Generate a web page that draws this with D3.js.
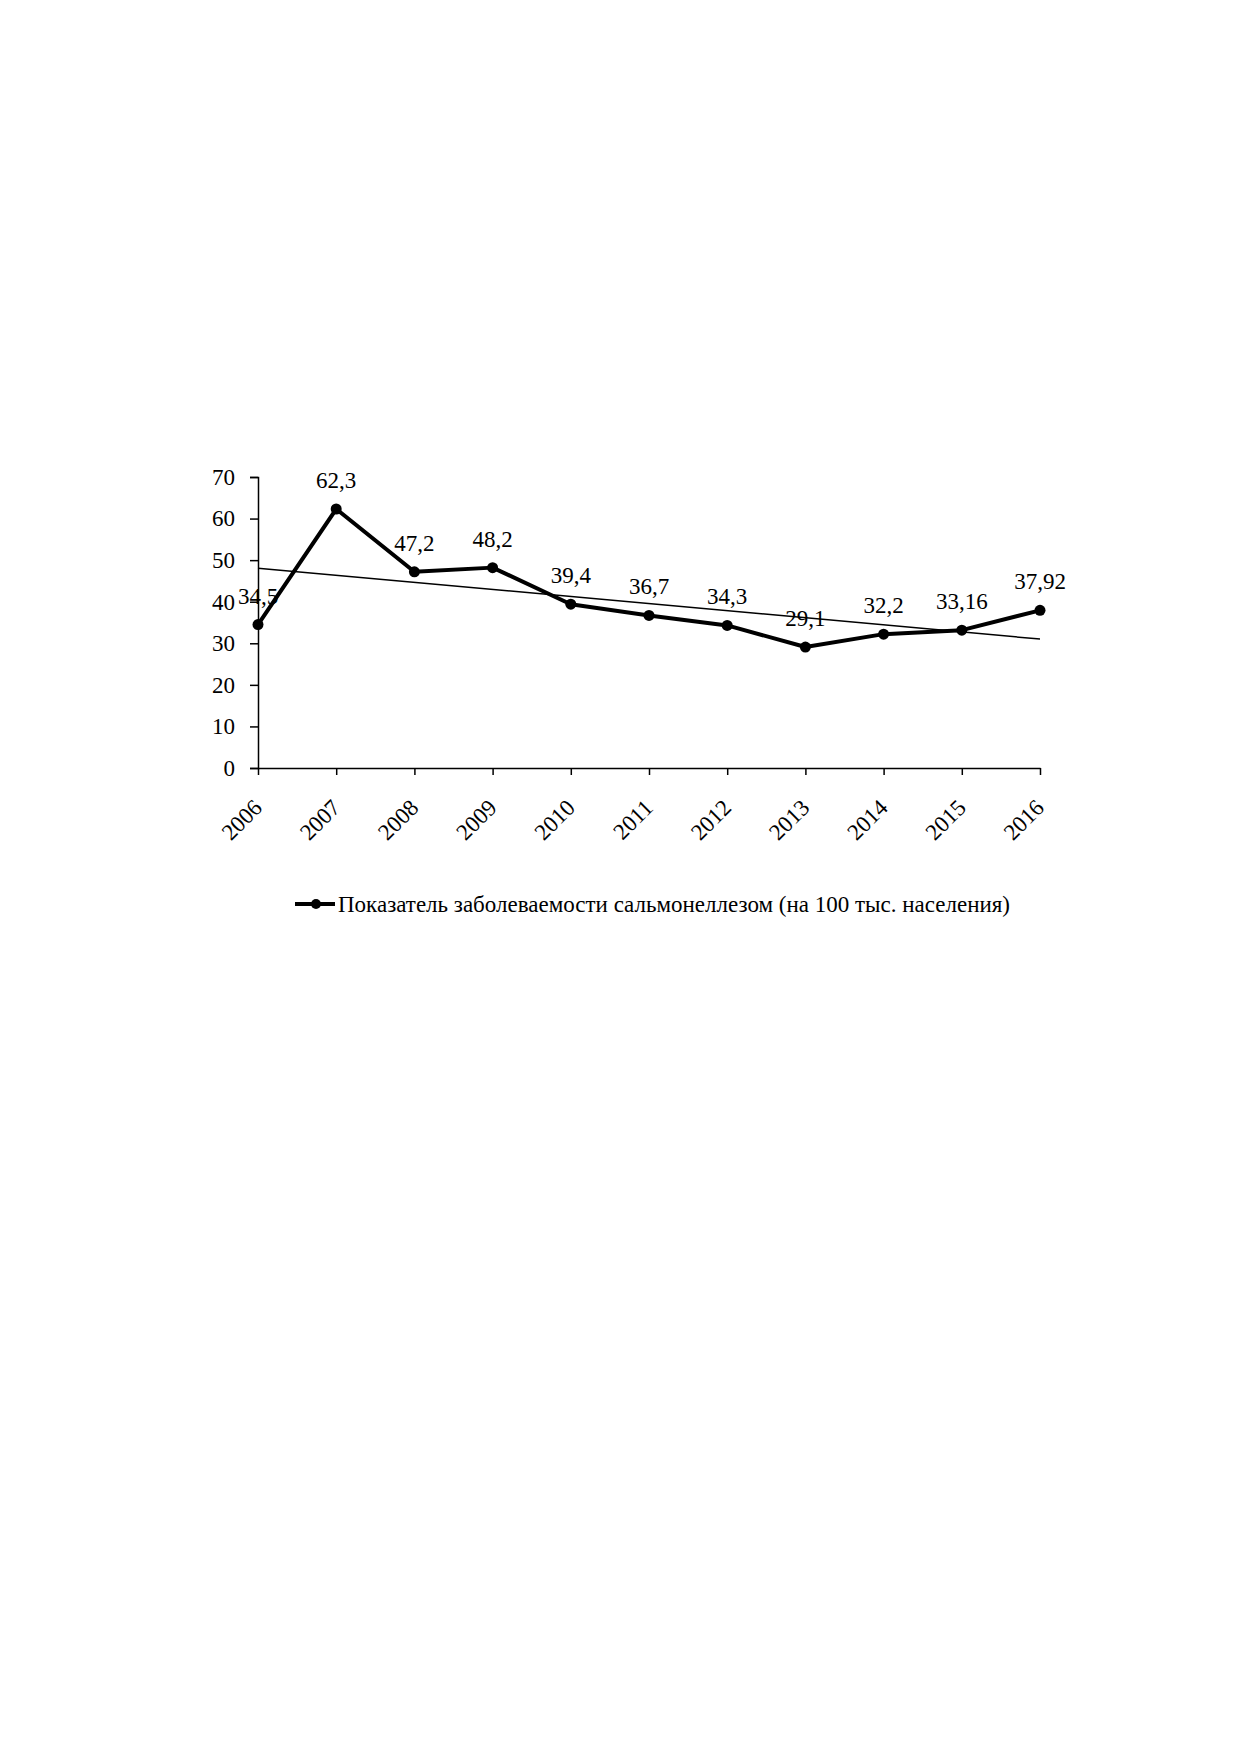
<!DOCTYPE html>
<html>
<head>
<meta charset="utf-8">
<script src="https://cdn.jsdelivr.net/npm/d3@7"></script>
<style>
  body { margin: 0; background: #fff; }
  text { font-family: "Liberation Serif", "Times New Roman", serif; fill: #000; }
</style>
</head>
<body>
<div id="chart"></div>
<script>
const years = ['2006', '2007', '2008', '2009', '2010', '2011', '2012', '2013', '2014', '2015', '2016'];
const values = [34.5, 62.3, 47.2, 48.2, 39.4, 36.7, 34.3, 29.1, 32.2, 33.16, 37.92];
const valueLabels = ['34,5', '62,3', '47,2', '48,2', '39,4', '36,7', '34,3', '29,1', '32,2', '33,16', '37,92'];
const yTicks = [0, 10, 20, 30, 40, 50, 60, 70];
const seriesName = 'Показатель заболеваемости сальмонеллезом (на 100 тыс. населения)';

const width = 1239, height = 1754;
const plot = { left: 258, right: 1040, top: 477, bottom: 768 };

const svg = d3.select('#chart').append('svg')
  .attr('width', width)
  .attr('height', height);

// scales
const x = d3.scalePoint().domain(years).range([plot.left, plot.right]);
const y = d3.scaleLinear().domain([0, 70]).range([plot.bottom, plot.top]);

// y axis
const yAxis = svg.append('g')
  .attr('transform', 'translate(' + plot.left + ',0)')
  .call(d3.axisLeft(y).tickValues(yTicks).tickSize(8).tickPadding(15).tickFormat(d3.format('d')));
yAxis.select('.domain').attr('stroke', '#000').attr('stroke-width', 1.5);
yAxis.selectAll('.tick line').attr('stroke', '#000').attr('stroke-width', 1.5);
yAxis.selectAll('.tick text').style('font-size', '23px').attr('fill', '#000')
  .style('font-family', '"Liberation Serif", serif');

// x axis, ticks point down, labels rotated
const xAxis = svg.append('g')
  .attr('transform', 'translate(0,' + plot.bottom + ')')
  .call(d3.axisBottom(x).tickSize(7).tickSizeOuter(0));
xAxis.select('.domain').attr('stroke', '#000').attr('stroke-width', 1.5);
xAxis.selectAll('.tick line').attr('stroke', '#000').attr('stroke-width', 1.5);
xAxis.selectAll('.tick text')
  .style('font-size', '23px')
  .style('font-family', '"Liberation Serif", serif')
  .attr('fill', '#000')
  .attr('text-anchor', 'end')
  .attr('dy', null)
  .attr('y', 0)
  .attr('transform', 'translate(5,41) rotate(-45)');

// linear trend through the series (least squares)
const n = values.length;
const xs = d3.range(n);
const mx = d3.mean(xs), my = d3.mean(values);
const slope = d3.sum(xs, (i) => (i - mx) * (values[i] - my)) / d3.sum(xs, (i) => (i - mx) * (i - mx));
const intercept = my - slope * mx;
const trend = [0, n - 1].map((i) => [x(years[i]), y(intercept + slope * i)]);

svg.append('path')
  .attr('d', d3.line()(trend))
  .attr('fill', 'none')
  .attr('stroke', '#000')
  .attr('stroke-width', 1.5);

// main series
const line = d3.line()
  .x((d, i) => x(years[i]))
  .y((d) => y(d));

svg.append('path')
  .datum(values)
  .attr('d', line)
  .attr('fill', 'none')
  .attr('stroke', '#000')
  .attr('stroke-width', 4)
  .attr('stroke-linejoin', 'round');

svg.append('g')
  .selectAll('circle')
  .data(values)
  .join('circle')
  .attr('cx', (d, i) => x(years[i]))
  .attr('cy', (d) => y(d))
  .attr('r', 5.5)
  .attr('fill', '#000');

// data labels
svg.append('g')
  .selectAll('text')
  .data(values)
  .join('text')
  .attr('x', (d, i) => x(years[i]))
  .attr('y', (d) => y(d) - 21)
  .attr('text-anchor', 'middle')
  .style('font-size', '23px')
  .text((d, i) => valueLabels[i]);

// legend
const legend = svg.append('g').attr('transform', 'translate(295,904)');
legend.append('line')
  .attr('x1', 0).attr('x2', 40)
  .attr('y1', 0).attr('y2', 0)
  .attr('stroke', '#000')
  .attr('stroke-width', 4);
legend.append('circle')
  .attr('cx', 21).attr('cy', 0).attr('r', 5)
  .attr('fill', '#000');
legend.append('text')
  .attr('x', 43)
  .attr('y', 0)
  .attr('dy', '0.35em')
  .style('font-size', '23px')
  .attr('textLength', 672)
  .attr('lengthAdjust', 'spacingAndGlyphs')
  .text(seriesName);
</script>
</body>
</html>
